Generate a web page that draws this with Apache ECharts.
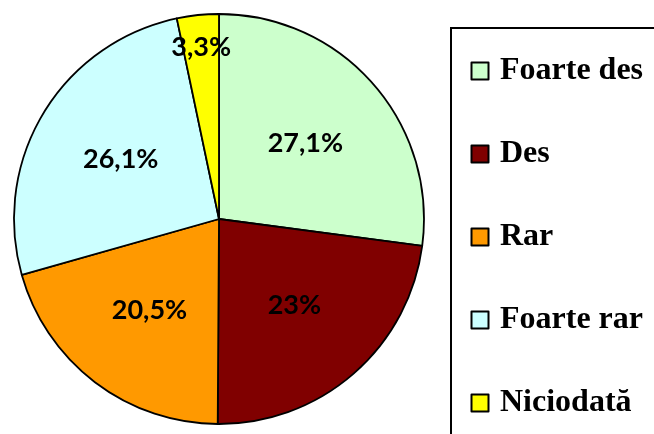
<!DOCTYPE html>
<html>
<head>
<meta charset="utf-8">
<script src="https://cdn.jsdelivr.net/npm/echarts@6/dist/echarts.min.js"></script>
<style>
html,body{margin:0;padding:0;background:#fff;}
#chart{width:654px;height:434px;}
</style>
</head>
<body>
<div id="chart"></div>
<script>
var categories = ['Foarte des', 'Des', 'Rar', 'Foarte rar', 'Niciodată'];
var values = [27.1, 23, 20.5, 26.1, 3.3];
var labels = ['27,1%', '23%', '20,5%', '26,1%', '3,3%'];
var colors = ['#CCFFCC', '#800000', '#FF9900', '#CCFFFF', '#FFFF00'];

var CX = 219, CY = 219, R = 205;
var total = values.reduce(function (a, b) { return a + b; }, 0);
var mids = [];
(function () {
  var acc = 0;
  for (var i = 0; i < values.length; i++) {
    mids.push((acc + values[i] / 2) / total * Math.PI * 2);
    acc += values[i];
  }
})();

var chart = echarts.init(document.getElementById('chart'), null, {renderer: 'canvas'});
chart.setOption({
  backgroundColor: '#ffffff',
  animation: false,
  color: colors,
  graphic: [{
    type: 'rect',
    z: 0,
    shape: {x: 451, y: 28, width: 260, height: 460},
    style: {fill: 'none', stroke: '#000', lineWidth: 2}
  }],
  legend: {
    orient: 'vertical',
    left: 451,
    top: 28,
    padding: [27, 0, 0, 19.5],
    itemGap: 51,
    itemWidth: 30,
    itemHeight: 17,
    icon: 'path://M0,0h10v10h-10z',
    itemStyle: {borderColor: '#000', borderWidth: 2},
    textStyle: {
      fontFamily: 'Liberation Serif',
      fontWeight: 'bold',
      fontSize: 32,
      lineHeight: 31,
      color: '#000'
    },
    data: categories
  },
  series: [{
    type: 'pie',
    center: [CX, CY],
    radius: [0, R],
    startAngle: 90,
    clockwise: true,
    avoidLabelOverlap: false,
    itemStyle: {borderColor: '#000', borderWidth: 1.8},
    emphasis: {disabled: true},
    label: {
      show: true,
      position: 'inside',
      fontFamily: 'Lato',
      fontWeight: 'bold',
      fontSize: 27,
      color: '#000',
      formatter: function (p) { return labels[p.dataIndex]; }
    },
    labelLayout: function (p) {
      var i = p.dataIndex;
      var ratio = values[i] < 5 ? 0.84 : 0.56;
      var a = mids[i];
      return {
        x: CX + Math.sin(a) * R * ratio,
        y: CY - Math.cos(a) * R * ratio,
        align: 'center',
        verticalAlign: 'middle'
      };
    },
    data: categories.map(function (c, i) { return {name: c, value: values[i]}; })
  }]
});
</script>
</body>
</html>
